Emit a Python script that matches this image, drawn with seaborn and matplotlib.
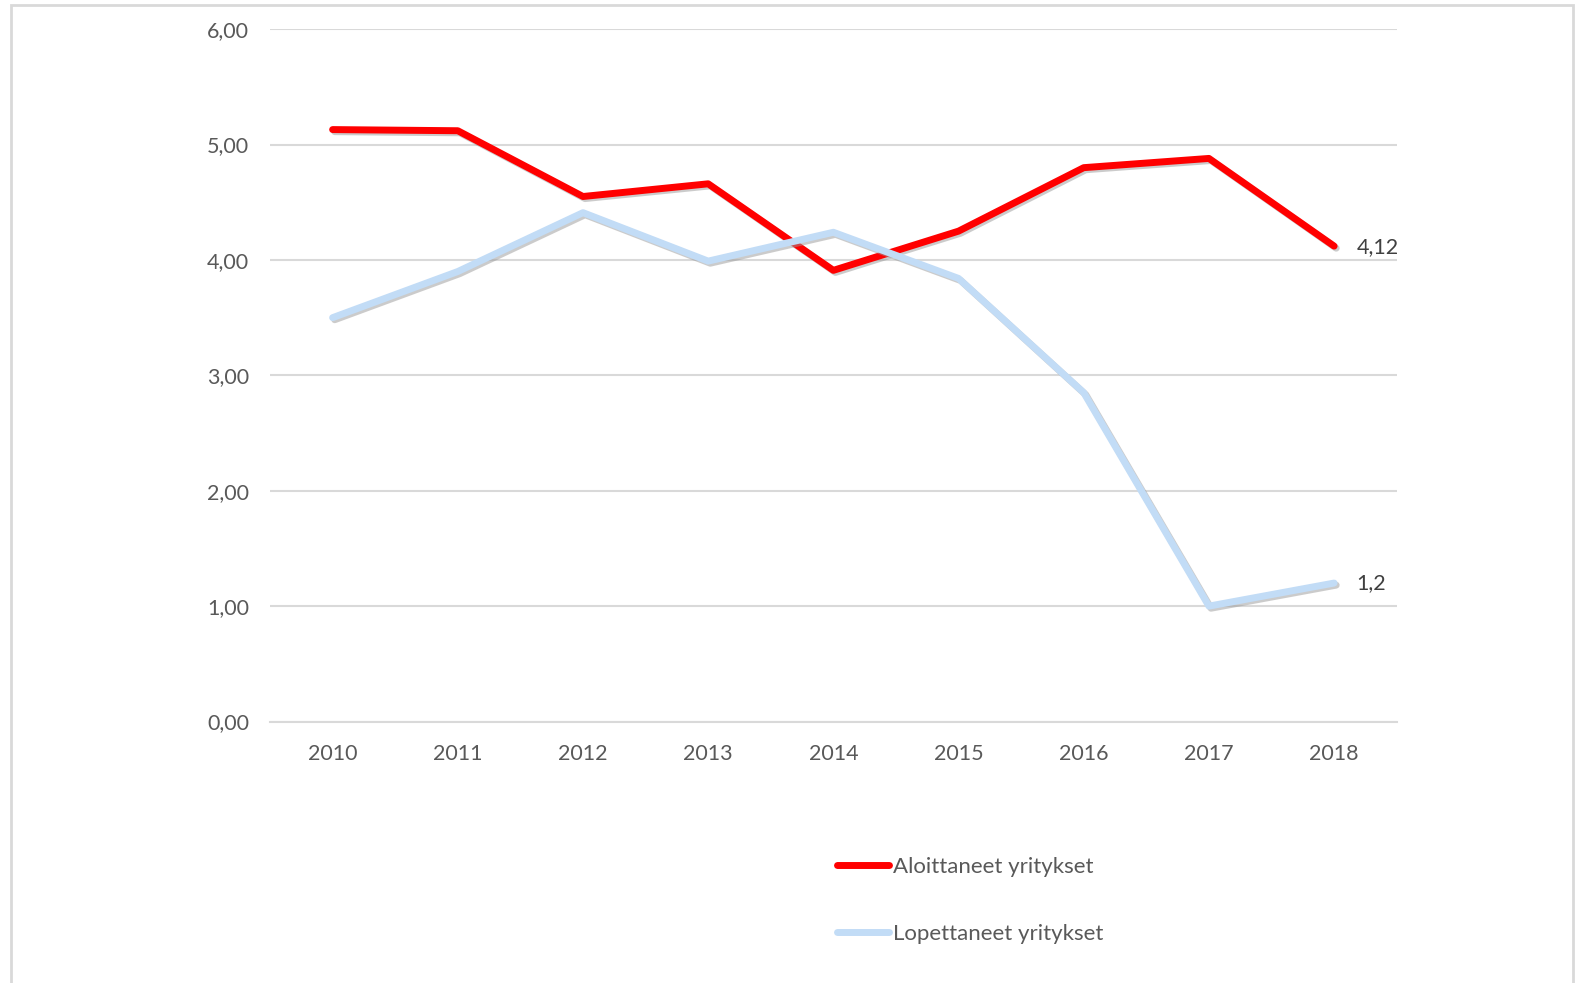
import pandas as pd
import numpy as np
import seaborn as sns
import matplotlib.pyplot as plt
import matplotlib.patheffects as pe
from matplotlib.lines import Line2D
from matplotlib.patches import Rectangle

years = [2010, 2011, 2012, 2013, 2014, 2015, 2016, 2017, 2018]
aloittaneet = [5.13, 5.12, 4.55, 4.66, 3.91, 4.25, 4.80, 4.88, 4.12]
lopettaneet = [3.50, 3.90, 4.41, 3.99, 4.24, 3.84, 2.85, 1.00, 1.20]
series_names = ["Aloittaneet yritykset", "Lopettaneet yritykset"]
end_labels = ["4,12", "1,2"]
yticks = [0, 1, 2, 3, 4, 5, 6]

df = pd.DataFrame({
    'year': [str(y) for y in years] * 2,
    'value': aloittaneet + lopettaneet,
    'series': [series_names[0]] * len(years) + [series_names[1]] * len(years),
})

sns.set_style("white")
plt.rcParams['font.family'] = ['Lato', 'DejaVu Sans']
grey = '#595959'
colors = {series_names[0]: '#ff0000', series_names[1]: '#c2dcf6'}

fig = plt.figure(figsize=(15.8, 9.83), dpi=100)
ax = fig.add_axes([0.1709, 0.266, 0.7131, 0.7043])

shadow = [pe.SimpleLineShadow(offset=(1.5, -1.5), shadow_color='#999999', alpha=0.5), pe.Normal()]
sns.lineplot(data=df, x='year', y='value', hue='series', palette=colors, ax=ax,
             linewidth=5, legend=False, sort=False)
for line in ax.lines:
    line.set_solid_capstyle('round')
    line.set_solid_joinstyle('round')
    line.set_path_effects(shadow)

ax.set_xlim(-0.5, len(years) - 0.5)
ax.set_ylim(0, 6)
ax.set_yticks(yticks)
ax.set_yticklabels([f"{t:.2f}".replace('.', ',') for t in yticks])
ax.grid(axis='y', color='#d9d9d9', linewidth=1.5)
ax.grid(axis='x', visible=False)
ax.set_axisbelow(True)
for s in ['top', 'right', 'left']:
    ax.spines[s].set_visible(False)
ax.spines['bottom'].set_color('#d9d9d9')
ax.spines['bottom'].set_linewidth(1.5)
ax.tick_params(axis='both', length=0, labelsize=15.5, labelcolor=grey)
ax.tick_params(axis='y', pad=15)
ax.tick_params(axis='x', pad=16)
ax.set_xlabel("")
ax.set_ylabel("")

last = len(years) - 1
ax.annotate(end_labels[0], (last, aloittaneet[-1]), xytext=(16, -1), textcoords='offset points',
            fontsize=15.5, color='#404040', va='center', ha='left')
ax.annotate(end_labels[1], (last, lopettaneet[-1]), xytext=(16, 0), textcoords='offset points',
            fontsize=15.5, color='#404040', va='center', ha='left')

handles = [Line2D([0], [0], color=colors[n], linewidth=5, solid_capstyle='round') for n in series_names]
fig.legend(handles, series_names, loc='center left', bbox_to_anchor=(0.523, 0.084),
           frameon=False, fontsize=16, labelcolor=grey, handlelength=2.3,
           handletextpad=0.2, labelspacing=2.1, borderpad=0)

fig.patches.append(Rectangle((11 / 1580, -0.05), 1562 / 1580, 1.05 - 5 / 983, transform=fig.transFigure,
                             fill=False, edgecolor='#d9d9d9', linewidth=2))

fig.savefig("out.png", dpi=100, facecolor='white')
